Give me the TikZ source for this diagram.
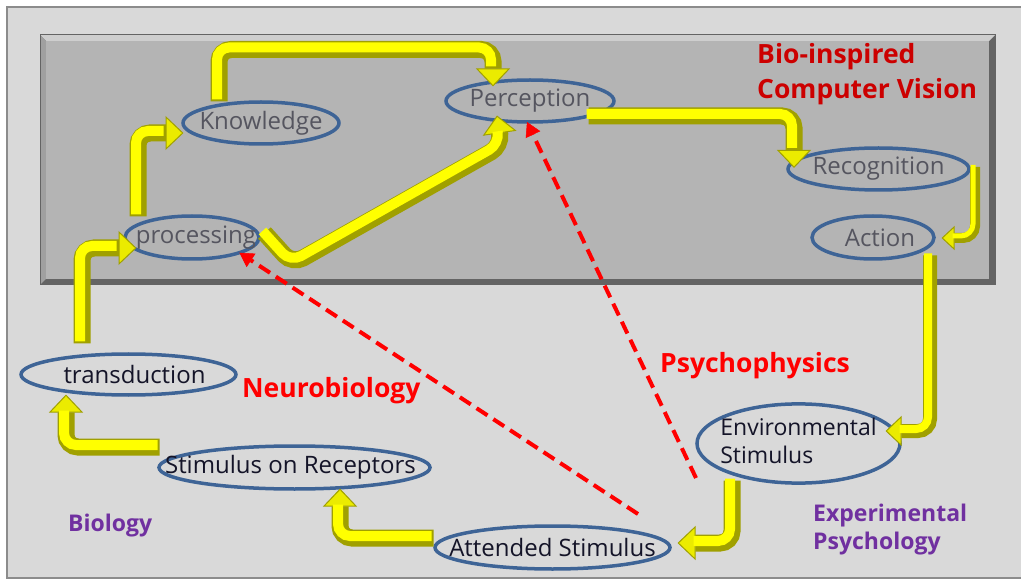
\documentclass[tikz,border=0pt]{standalone}
\usepackage{fontspec}
\setmainfont{Open Sans}
\usetikzlibrary{shapes.geometric,arrows.meta,calc}
\definecolor{bgouter}{RGB}{217,217,217}
\definecolor{frame}{RGB}{140,140,140}
\definecolor{panel}{RGB}{180,180,180}
\definecolor{paneldark}{RGB}{100,100,100}
\definecolor{panelmid}{RGB}{160,160,160}
\definecolor{panellight}{RGB}{206,206,206}
\definecolor{ellblue}{RGB}{62,100,150}
\definecolor{ygold}{RGB}{160,160,0}
\definecolor{ybright}{RGB}{255,255,0}
\definecolor{ytip}{RGB}{235,235,0}
\definecolor{darkred}{RGB}{204,0,0}
\definecolor{brightred}{RGB}{255,0,0}
\definecolor{purp}{RGB}{112,48,160}
\definecolor{intext}{RGB}{85,85,95}
\definecolor{outtext}{RGB}{20,20,40}
\begin{document}
\begin{tikzpicture}[x=1pt,y=-1pt,
  ell/.style={ellipse, draw=ellblue, line width=3.5pt, inner sep=0pt, outer sep=0pt,
    font=\fontsize{24}{28}\selectfont},
  yarrow/.style n args={4}{draw=ygold, line width=#1, rounded corners=12pt,
    -{Triangle[width=#3,length=#4,line width=1pt,fill=ytip]},
    postaction={draw=ybright, line width=#2, -, shorten >=#4,
      transform canvas={shift={(-2pt,2pt)}}}},
  rdash/.style={draw=brightred, line width=4pt, dash pattern=on 13pt off 7pt,
    -{Triangle[width=16pt,length=14pt,line width=0.5pt]}},
  biglabel/.style={inner sep=0pt, font=\bfseries\fontsize{26.5}{35}\selectfont, align=left},
  smalllabel/.style={inner sep=0pt, font=\bfseries\fontsize{23}{28}\selectfont, align=left, text=purp}
]
\useasboundingbox (0,0) rectangle (1021,580);
\fill[white] (0,0) rectangle (1021,580);
\fill[bgouter] (7,7) rectangle (1021,578);
\draw[frame, line width=2.5pt] (1021,7) -- (7,7) -- (7,578) -- (1021,578);

% panel
\fill[paneldark] (40,35) rectangle (995,285);
\fill[panellight] (40,35) -- (995,35) -- (989,41) -- (46,41) -- cycle;
\fill[panelmid] (40,35) -- (46,41) -- (46,279) -- (40,285) -- cycle;
\fill[panel] (46,41) rectangle (989,279);
\draw[paneldark, line width=1pt] (40,35) rectangle (995,285);

% ellipses
\node[ell, minimum width=156pt, minimum height=42pt, text=intext] (know) at (261,123) {\makebox[0pt]{Knowledge}};
\node[ell, minimum width=134pt, minimum height=43pt, text=intext] (proc) at (192,237.5) {\makebox[0pt]{\hspace*{8pt}processing}};
\node[ell, minimum width=168pt, minimum height=42pt, text=intext] (perc) at (530,101) {\makebox[0pt]{Perception}};
\node[ell, minimum width=181pt, minimum height=42pt, text=intext] (recog) at (878.5,169) {\makebox[0pt]{Recognition}};
\node[ell, minimum width=122pt, minimum height=43pt, text=intext] (action) at (873,237.5) {\makebox[0pt]{\hspace*{14pt}Action}};
\node[ell, minimum width=215pt, minimum height=41pt, text=outtext] (trans) at (128.5,374.5) {\makebox[0pt]{\hspace*{12pt}transduction}};
\node[ell, minimum width=271pt, minimum height=43pt, text=outtext] (sor) at (294.5,467.5) {\makebox[0pt]{\hspace*{-8pt}Stimulus on Receptors}};
\node[ell, minimum width=235pt, minimum height=43pt, text=outtext] (att) at (552.5,547.5) {\makebox[0pt]{Attended Stimulus}};
\node[ell, minimum width=203pt, minimum height=65pt, text=outtext, font=\fontsize{23}{28}\selectfont] (env) at (798.5,443.5)
  {\makebox[0pt]{\begin{tabular}{@{}l@{}}Environmental\\Stimulus\end{tabular}}};

% yellow arrows
\draw[yarrow={17pt}{10pt}{34pt}{18pt}] ([shift={(-46.5,-10.5)}]trans.north) |- ([shift={(11.5,10.5)}]proc.west);
\draw[yarrow={17pt}{10pt}{34pt}{18pt}] ([shift={(-54,0.5)}]proc.north) |- ([shift={(0.5,10)}]know.west);
\draw[yarrow={17pt}{10pt}{34pt}{18pt}] ([shift={(-42,-0.5)}]know.north) -- ++(0,-52) -| ([shift={(-37,6.5)}]perc.north);
\draw[yarrow={17pt}{10pt}{34pt}{18pt}] ([shift={(5.5,-4.5)}]proc.east) -- ++(28,31) -- ++(209,-118) -- ([shift={(-33,-6.5)}]perc.south);
\draw[yarrow={17pt}{10pt}{34pt}{18pt}] ([shift={(-25.5,15)}]perc.east) -| ([shift={(6,-1)}]recog.west);
\draw[yarrow={10pt}{5pt}{24pt}{13pt}] ([shift={(6,-2)}]recog.east) |- ([shift={(7.5,0.5)}]action.east);
\draw[yarrow={14pt}{8pt}{30pt}{16pt}] ([shift={(57,-3.5)}]action.south) |- ([shift={(-14.5,-12.5)}]env.east);
\draw[yarrow={17pt}{10pt}{34pt}{18pt}] ([shift={(-66.5,-2.5)}]env.south) |- ([shift={(7.5,-4.5)}]att.east);
\draw[yarrow={17pt}{10pt}{34pt}{18pt}] ([shift={(-1.5,-9.5)}]att.west) -| ([shift={(45.5,-0.5)}]sor.south);
\draw[yarrow={17pt}{10pt}{34pt}{18pt}] ([shift={(0.5,-20.5)}]sor.west) -| ([shift={(-62.5,-0.5)}]trans.south);

% red dashed
\coordinate (n1) at (638,514);
\coordinate (n2) at (696,478);
\draw[rdash] (n1) -- (proc.south east);
\draw[rdash] (n2) -- ([shift={(-3,0)}]perc.south);

% labels
\node[biglabel, text=darkred, anchor=north west] (bicv) at (757,43) {Bio-inspired\\Computer Vision};
\node[biglabel, text=brightred, anchor=base west] (neuro) at (242,397) {Neurobiology};
\node[biglabel, text=brightred, anchor=base west] (psy) at (660,373) {Psychophysics};
\node[smalllabel, anchor=base west] (bio) at (68,531) {Biology};
\node[smalllabel, anchor=north west] (exps) at (813,504) {Experimental\\Psychology};
\end{tikzpicture}
\end{document}
